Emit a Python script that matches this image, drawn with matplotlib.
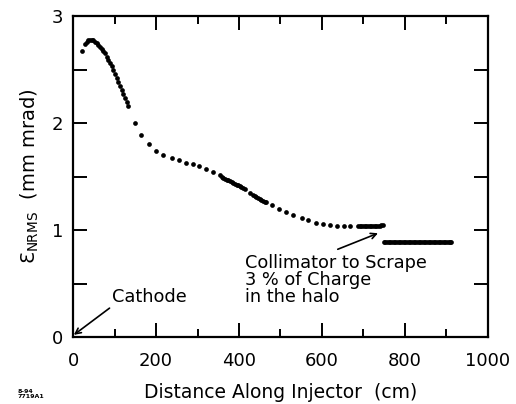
import matplotlib
matplotlib.use("Agg")
import matplotlib.pyplot as plt
from matplotlib.ticker import MultipleLocator

plt.rcParams['font.family'] = ['DejaVu Sans']
plt.rcParams['mathtext.default'] = 'regular'

# Emittance before collimator (cm, mm mrad)
distance_main = [22,
                 29, 33, 37, 41, 45, 49, 53, 57, 61, 65, 69, 73, 77, 81, 85, 89, 93, 97,
                 101, 105, 109, 113, 117, 121, 125, 129, 133,
                 149, 165, 183, 200, 218, 238, 255, 272, 288, 304, 320, 337,
                 354, 358, 362, 366, 370, 374, 378, 382, 386, 390, 394, 398, 402, 406, 410, 414,
                 427,
                 434, 438, 442, 446, 450, 454, 458, 462, 466,
                 480, 496, 513, 531, 551, 567, 586, 602, 619, 635, 652, 668,
                 687, 691, 695, 699, 703, 707, 711, 715, 719, 723, 727, 731, 735, 739, 743, 748]
emit_main = [2.67,
             2.74, 2.76, 2.775, 2.78, 2.78, 2.775, 2.76, 2.745, 2.73, 2.71, 2.695, 2.675, 2.65,
             2.62, 2.59, 2.56, 2.53, 2.50,
             2.46, 2.42, 2.38, 2.35, 2.31, 2.27, 2.23, 2.20, 2.16,
             2.00, 1.89, 1.80, 1.74, 1.70, 1.67, 1.65, 1.63, 1.62, 1.60, 1.57, 1.54,
             1.51, 1.50, 1.49, 1.48, 1.47, 1.465, 1.46, 1.45, 1.44, 1.43, 1.425, 1.42, 1.41,
             1.40, 1.39, 1.38,
             1.35,
             1.33, 1.32, 1.31, 1.30, 1.29, 1.285, 1.275, 1.265, 1.26,
             1.23, 1.20, 1.17, 1.14, 1.11, 1.09, 1.07, 1.06, 1.05, 1.04, 1.04, 1.04,
             1.04, 1.04, 1.04, 1.04, 1.04, 1.04, 1.04, 1.04, 1.04, 1.04, 1.04, 1.04, 1.04,
             1.04, 1.045, 1.05]

# Emittance after collimator
distance_coll = [749, 753, 757, 761, 765, 769, 773, 777, 781, 785, 789, 793, 797, 801,
                 805, 809, 813, 817, 821, 825, 829, 833, 837, 841, 845, 849, 853, 857,
                 861, 865, 869, 873, 877, 881, 885, 889, 893, 897, 901, 905, 909, 912]
emit_coll = [0.89, 0.89, 0.89, 0.89, 0.89, 0.89, 0.89, 0.89, 0.89, 0.89, 0.89, 0.89,
             0.89, 0.89, 0.89, 0.89, 0.89, 0.89, 0.89, 0.89, 0.89, 0.89, 0.89, 0.89,
             0.89, 0.89, 0.89, 0.89, 0.89, 0.89, 0.89, 0.89, 0.89, 0.89, 0.89, 0.89,
             0.89, 0.89, 0.89, 0.89, 0.89, 0.89]

fig = plt.figure(figsize=(5.16, 4.04), dpi=100)
ax = fig.add_axes([0.1415, 0.1658, 0.8042, 0.7946])

ax.plot(distance_main, emit_main, 'o', color='black', markersize=3.4, markeredgewidth=0)
ax.plot(distance_coll, emit_coll, 'o', color='black', markersize=3.4, markeredgewidth=0)

ax.set_xlim(0, 1000)
ax.set_ylim(0, 3)
ax.xaxis.set_major_locator(MultipleLocator(200))
ax.xaxis.set_minor_locator(MultipleLocator(100))
ax.yaxis.set_major_locator(MultipleLocator(1))
ax.yaxis.set_minor_locator(MultipleLocator(0.5))
ax.tick_params(which='both', direction='in', top=True, right=True, width=1.4,
               labelsize=13)
ax.tick_params(axis='x', which='both', pad=11)
ax.tick_params(axis='y', which='both', pad=7)
ax.tick_params(axis='x', which='major', length=10)
ax.tick_params(axis='x', which='minor', length=6)
ax.tick_params(axis='y', which='both', length=10)
for s in ax.spines.values():
    s.set_linewidth(1.6)

ax.set_xlabel('Distance Along Injector  (cm)', fontsize=13.5, labelpad=9)
ax.set_ylabel('Ɛ$_{NRMS}$  (mm mrad)', fontsize=14, labelpad=8)

ax.text(94, 0.37, 'Cathode', fontsize=12.8, ha='left', va='center')
ax.annotate('', xy=(2, 0.02), xytext=(88, 0.27),
            arrowprops=dict(arrowstyle='->', color='black', lw=1.2,
                            shrinkA=0, shrinkB=0))
ax.text(414, 0.78, 'Collimator to Scrape\n3 % of Charge\nin the halo', fontsize=12.8,
        ha='left', va='top', linespacing=0.95)
ax.annotate('', xy=(735, 0.97), xytext=(638, 0.82),
            arrowprops=dict(arrowstyle='->', color='black', lw=1.2,
                            shrinkA=0, shrinkB=0))

fig.text(18 / 516, 1 - 394 / 404, '8-94\n7719A1', fontsize=4.5, ha='left', va='center',
         fontweight='bold', linespacing=1.0)

fig.savefig('out.png', dpi=100)
